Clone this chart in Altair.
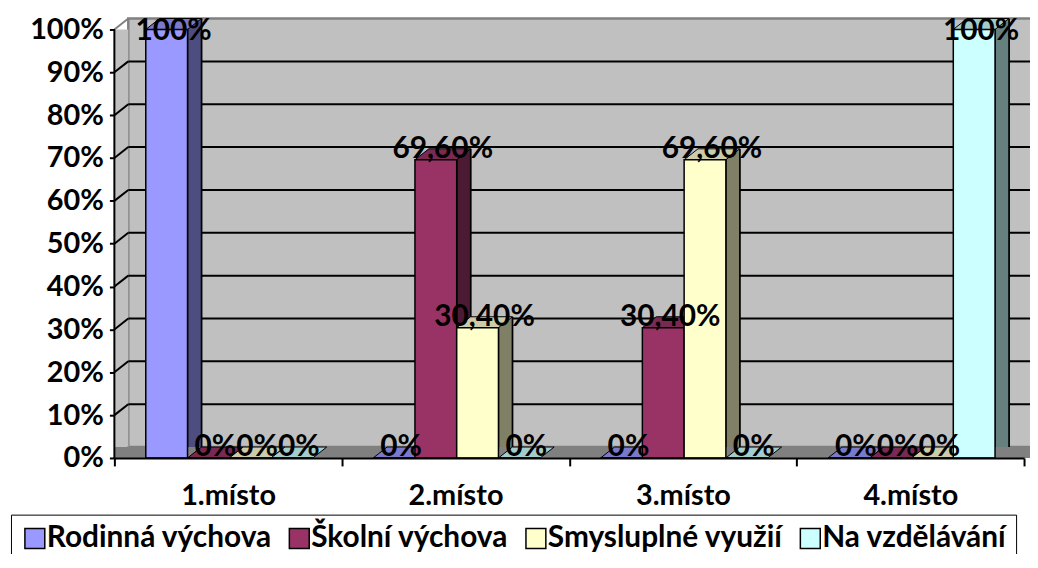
import altair as alt
import pandas as pd

# ---------------- data ----------------
CATEGORIES = ["1.místo", "2.místo", "3.místo", "4.místo"]
SERIES = ["Rodinná výchova", "Školní výchova", "Smysluplné využií", "Na vzdělávání"]
RODINNA = [1.0, 0.0, 0.0, 0.0]
SKOLNI = [0.0, 0.696, 0.304, 0.0]
SMYSL = [0.0, 0.304, 0.696, 0.0]
NA_VZD = [0.0, 0.0, 0.0, 1.0]
Y_TICKS = [0.0, 0.1, 0.2, 0.3, 0.4, 0.5, 0.6, 0.7, 0.8, 0.9, 1.0]
GRID = [0.1, 0.2, 0.3, 0.4, 0.5, 0.6, 0.7, 0.8, 0.9]
EDGES = [0.0, 1.0]

FRONT_COLORS = ["#9999ff", "#993366", "#ffffcc", "#ccffff"]
SIDE_COLORS = ["#4d4d80", "#4d1a33", "#808066", "#668080"]
TOP_COLORS = ["#7a7acc", "#7a2952", "#ccccaa", "#a3cccc"]

# ---------------- layout ----------------
W = 915          # front plot width
PH = 442         # plot height (incl. 3D depth)
DX = 14          # 3D depth offset x (px)
DY = 11          # 3D depth offset y (px)
YEXTRA = DY / (PH - DY)
YMAX = 1 + YEXTRA
NCAT = len(CATEGORIES)
GROUP = W / NCAT                 # px per category
U = 1 / GROUP                    # category units per px
BAR_W = 42
OFF = 0.52 * (GROUP - len(SERIES) * BAR_W)   # left gap inside a group (px)
FONT = "Lato"

rows = []
for si, (s, vals) in enumerate(zip(SERIES, [RODINNA, SKOLNI, SMYSL, NA_VZD])):
    for ci, (c, v) in enumerate(zip(CATEGORIES, vals)):
        rows.append({"category": c, "series": s, "value": v, "ci": ci, "si": si})
df = pd.DataFrame(rows)
dummy = pd.DataFrame({"a": [0]})

yscale = alt.Scale(domain=[0, YMAX], nice=False, zero=False)
xscale = alt.Scale(domain=[0, NCAT], nice=False, zero=False)

cat_js = "[" + ",".join(f"'{c}'" for c in CATEGORIES) + "]"
XT = [i / 2 for i in range(2 * NCAT + 1)]
X_AXIS = alt.Axis(title=None, values=XT,
                  labelExpr=f"datum.value % 1 == 0.5 ? {cat_js}[floor(datum.value)] : ''",
                  tickOpacity={"condition": {"test": "datum.value % 1 != 0", "value": 0}, "value": 1},
                  tickSize=8, tickColor="black", tickWidth=2,
                  domainColor="black", domainWidth=2,
                  labelFont=FONT, labelFontSize=29, labelFontWeight="bold",
                  labelColor="black", labelAlign="center", labelBaseline="middle",
                  labelPadding=30, labelFlush=False, labelOverlap=False,
                  grid=False, zindex=1)
Y_AXIS = alt.Axis(title=None, values=Y_TICKS, format=".0%", domain=False,
                  grid=False, tickColor="black", tickWidth=2, tickSize=5,
                  labelFont=FONT, labelFontSize=29, labelFontWeight="bold",
                  labelColor="black", labelPadding=6, zindex=1)


def Xq(field):
    return alt.X(field, scale=xscale)


def Yq(field):
    return alt.Y(field, scale=yscale)


pos = alt.Chart(df).transform_calculate(
    xl=f"datum.ci + ({OFF} + datum.si * {BAR_W}) * {U}",
).transform_calculate(
    xr=f"datum.xl + {BAR_W * U}",
    xc=f"datum.xl + {BAR_W / 2 * U}",
)

# ---------------- walls ----------------
back_wall = alt.Chart(dummy).mark_rect(fill="#c0c0c0", stroke="#808080", strokeWidth=2.5).encode(
    x=alt.value(DX), x2=alt.value(W + DX + 30),
    y=alt.Y(datum=YMAX, scale=yscale), y2=alt.Y2(datum=YEXTRA))
side_wall = alt.Chart(dummy).mark_rect(fill="#c0c0c0").encode(
    x=alt.value(0), x2=alt.value(DX),
    y=alt.Y(datum=1.0, scale=yscale), y2=alt.Y2(datum=0.0))
floor = alt.Chart(dummy).mark_rect(fill="#808080").encode(
    x=alt.value(0), x2=alt.value(W + DX + 30),
    y=alt.Y(datum=YEXTRA, scale=yscale), y2=alt.Y2(datum=0.0))
grid_back = alt.Chart(pd.DataFrame({"g": GRID})).transform_calculate(
    gb=f"datum.g + {YEXTRA}").mark_rule(color="black", strokeWidth=2).encode(
    x=alt.value(DX), x2=alt.value(W + DX + 30), y=Yq("gb:Q"))
grid_side = alt.Chart(pd.DataFrame({"g": GRID})).transform_calculate(
    gb=f"datum.g + {YEXTRA}").mark_rule(color="black", strokeWidth=2).encode(
    x=alt.value(0), x2=alt.value(DX), y=Yq("g:Q"), y2="gb:Q")
edge_side = alt.Chart(pd.DataFrame({"g": EDGES})).transform_calculate(
    gb=f"datum.g + {YEXTRA}").mark_rule(color="#808080", strokeWidth=2).encode(
    x=alt.value(0), x2=alt.value(DX), y=Yq("g:Q"), y2="gb:Q")
y_line = alt.Chart(dummy).mark_rule(color="black", strokeWidth=2).encode(
    x=alt.value(0), y=alt.Y(datum=0.0, scale=yscale), y2=alt.Y2(datum=1.0))

# ---------------- bars ----------------
side_src = pos.transform_filter("datum.value > 0").transform_calculate(
    xs=f"datum.xr + {DX / 2 * U}",
    top=f"datum.value + {YEXTRA}", bot=f"{YEXTRA}", series_s="datum.series")
side_outline = side_src.mark_rule(color="black", strokeWidth=DX + 2, strokeCap="butt").encode(
    x=Xq("xs:Q"), y=Yq("top:Q"), y2="bot:Q")
side = side_src.mark_rule(strokeWidth=DX - 1.5, strokeCap="butt").encode(
    x=Xq("xs:Q"), y=Yq("top:Q"), y2="bot:Q",
    stroke=alt.Stroke("series_s:N", sort=SERIES, scale=alt.Scale(range=SIDE_COLORS),
                      legend=None))

s = (BAR_W / 2 + DX)
TOP_PATH = (f"M {-BAR_W/2/s:.4f} 0 L {BAR_W/2/s:.4f} 0 L 1 {-DY/s:.4f} "
            f"L {(-BAR_W/2+DX)/s:.4f} {-DY/s:.4f} Z")
top = pos.transform_calculate(series_t="datum.series").mark_point(
    shape=TOP_PATH, size=(2 * s) ** 2, filled=True, opacity=1,
    stroke="black", strokeWidth=1).encode(
    x=Xq("xc:Q"), y=Yq("value:Q"),
    fill=alt.Fill("series_t:N", sort=SERIES, scale=alt.Scale(range=TOP_COLORS),
                  legend=None))

legend = alt.Legend(orient="none", legendX=-104, legendY=499, direction="horizontal",
                    title=None, symbolType="square", symbolSize=400,
                    symbolStrokeColor="black", symbolStrokeWidth=1.5,
                    labelFont=FONT, labelFontSize=30, labelFontWeight="bold",
                    labelColor="black", labelLimit=0, columnPadding=12,
                    labelOffset={"expr": "-3"}, padding=9, strokeColor="black",
                    fillColor="white", symbolOpacity=1)
front = pos.mark_bar(stroke="black", strokeWidth=1.5, opacity=1).encode(
    x=alt.X("xl:Q", scale=xscale, axis=X_AXIS), x2="xr:Q",
    y=alt.Y("value:Q", scale=yscale, axis=Y_AXIS), y2=alt.Y2(datum=0),
    color=alt.Color("series:N", sort=SERIES,
                    scale=alt.Scale(domain=SERIES, range=FRONT_COLORS), legend=legend))

labels = pos.transform_calculate(
    label="datum.value == 0 || datum.value == 1 ? format(datum.value, '.0%') : "
          "replace(format(datum.value, '.2%'), '.', ',')",
    ly="min(datum.value, 0.97)",
    xt=f"datum.xc + {DX / 2 * U}").mark_text(
    dy=-DY, font=FONT, fontSize=30, fontWeight="bold", color="black",
    baseline="middle", align="center").encode(
    x=Xq("xt:Q"), y=Yq("ly:Q"), text="label:N")

chart = alt.layer(
    back_wall, side_wall, floor, grid_back, grid_side, edge_side, y_line,
    side_outline, side, top, front, labels,
).properties(
    width=W, height=PH,
    autosize=alt.AutoSizeParams(type="none"),
    padding={"left": 107, "top": 9, "right": 6, "bottom": 95},
    background="white",
).configure_view(stroke=None)

chart.save("out.html", embed_options={"renderer": "svg", "actions": False})
